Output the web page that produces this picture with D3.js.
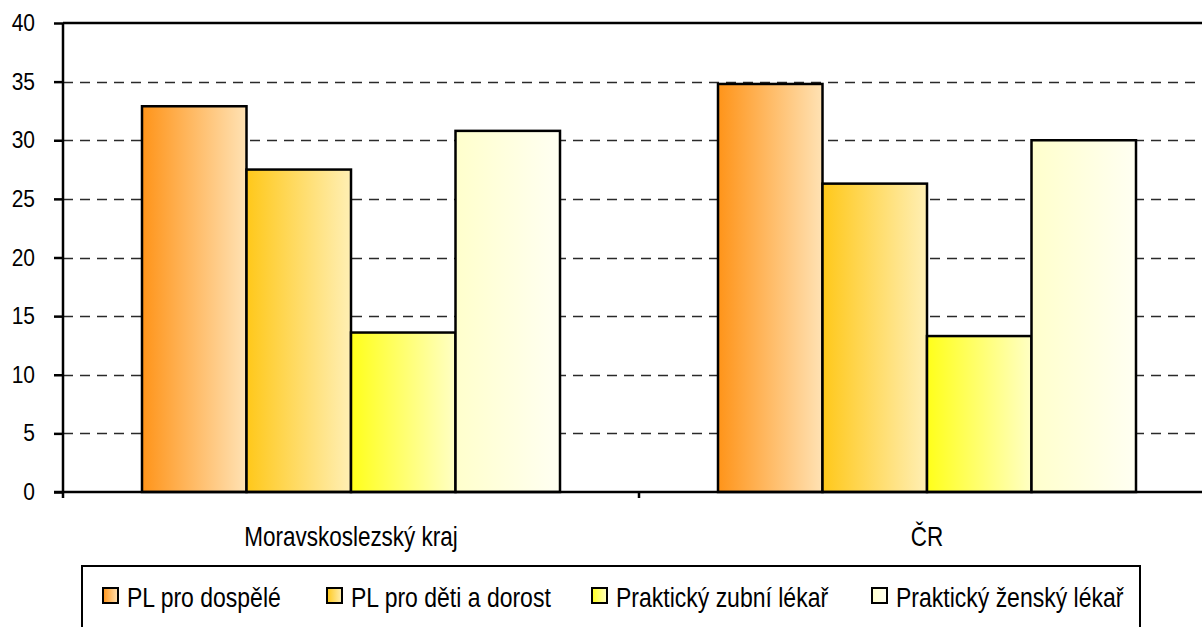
<!DOCTYPE html>
<html>
<head>
<meta charset="utf-8">
<script src="https://cdn.jsdelivr.net/npm/d3@7"></script>
<style>
  body { margin: 0; background: #fff; }
  svg { display: block; font-family: "Liberation Sans", Arial, sans-serif; }
</style>
</head>
<body>
<div id="chart"></div>
<script>
// data
const categories = ["Moravskoslezský kraj", "ČR"];
const series = ["PL pro dospělé", "PL pro děti a dorost", "Praktický zubní lékař", "Praktický ženský lékař"];
const valuesMSK = [32.9, 27.5, 13.6, 30.8];
const valuesCR = [34.8, 26.3, 13.3, 30.0];
const yTicks = [0, 5, 10, 15, 20, 25, 30, 35, 40];

// gradient colours (left -> right) per series
const gradStart = ["#ff9419", "#ffc81a", "#ffff1a", "#ffffcc"];
const gradEnd = ["#ffe2b4", "#ffefb4", "#ffffc4", "#fffff2"];

const width = 1202, height = 627;
const margin = {top: 23, left: 63, bottom: 135};
const plotRight = 1215; // plot area is cut at the window edge
const stretch = 1.22;   // text in the original is drawn a bit taller than wide

const rows = categories.map((c, i) => ({
  cat: c,
  vals: [valuesMSK, valuesCR][i].map((v, j) => ({series: series[j], idx: j, value: v}))
}));

const svg = d3.select("#chart").append("svg")
  .attr("width", width)
  .attr("height", height);

const defs = svg.append("defs");
series.forEach((s, i) => {
  const g = defs.append("linearGradient").attr("id", "grad" + i)
    .attr("x1", "0%").attr("x2", "100%").attr("y1", "0%").attr("y2", "0%");
  g.append("stop").attr("offset", "0%").attr("stop-color", gradStart[i]);
  g.append("stop").attr("offset", "100%").attr("stop-color", gradEnd[i]);
});

const x0 = d3.scaleBand()
  .domain(categories)
  .range([margin.left, plotRight])
  .paddingInner(0).paddingOuter(0);

const groupWidth = 418;
const x1 = d3.scaleBand()
  .domain(series)
  .range([0, groupWidth])
  .padding(0);

const y = d3.scaleLinear()
  .domain([0, 40])
  .range([height - margin.bottom, margin.top]);

// dashed grid lines
svg.append("g")
  .selectAll("line")
  .data(yTicks.filter(t => t > 0 && t < 40))
  .join("line")
    .attr("x1", margin.left)
    .attr("x2", width)
    .attr("y1", d => Math.round(y(d)) + 0.5)
    .attr("y2", d => Math.round(y(d)) + 0.5)
    .attr("stroke", "#2a2a2a")
    .attr("stroke-width", 1.3)
    .attr("stroke-dasharray", "10,7");

// top border line
svg.append("line")
  .attr("x1", margin.left).attr("x2", width)
  .attr("y1", y(40)).attr("y2", y(40))
  .attr("stroke", "#000").attr("stroke-width", 2.5);

// bars
const groups = svg.append("g")
  .selectAll("g")
  .data(rows)
  .join("g")
    .attr("transform", d => `translate(${x0(d.cat) + (x0.bandwidth() - groupWidth) / 2},0)`);

groups.selectAll("rect")
  .data(d => d.vals)
  .join("rect")
    .attr("x", d => x1(d.series))
    .attr("y", d => y(d.value))
    .attr("width", x1.bandwidth())
    .attr("height", d => y(0) - y(d.value))
    .attr("fill", d => `url(#grad${d.idx})`)
    .attr("stroke", "#000")
    .attr("stroke-width", 2.5);

// y axis
const yAxis = d3.axisLeft(y).tickValues(yTicks).tickSize(9).tickFormat("");
const yg = svg.append("g")
  .attr("transform", `translate(${margin.left},0)`)
  .call(yAxis);
yg.select(".domain").remove();
yg.selectAll(".tick line").attr("stroke", "#000").attr("stroke-width", 2.5);
yg.selectAll(".tick").append("text")
  .attr("transform", `translate(-28,7.5) scale(1,1.1)`)
  .attr("text-anchor", "end")
  .attr("font-size", "21px")
  .attr("fill", "#000")
  .text(d => d);
svg.append("line")
  .attr("x1", margin.left).attr("x2", margin.left)
  .attr("y1", y(40)).attr("y2", y(0) + 6)
  .attr("stroke", "#000").attr("stroke-width", 2.5);

// x axis
svg.append("line")
  .attr("x1", margin.left - 9).attr("x2", width)
  .attr("y1", y(0)).attr("y2", y(0))
  .attr("stroke", "#000").attr("stroke-width", 2.5);
svg.append("g")
  .selectAll("line")
  .data(categories.slice(1))
  .join("line")
    .attr("x1", d => x0(d)).attr("x2", d => x0(d))
    .attr("y1", y(0)).attr("y2", y(0) + 6)
    .attr("stroke", "#000").attr("stroke-width", 2.5);
svg.append("g")
  .selectAll("text")
  .data(categories)
  .join("text")
    .attr("transform", d => `translate(${x0(d) + x0.bandwidth() / 2},546) scale(1,${stretch})`)
    .attr("text-anchor", "middle")
    .attr("font-size", "22.5px")
    .attr("fill", "#000")
    .text(d => d);

// legend
const legendX = [103, 327, 592, 872];
const legend = svg.append("g");
legend.append("rect")
  .attr("x", 82).attr("y", 566)
  .attr("width", 1058).attr("height", 80)
  .attr("fill", "#fff")
  .attr("stroke", "#000").attr("stroke-width", 2);
const li = legend.selectAll("g.item")
  .data(series)
  .join("g")
    .attr("class", "item")
    .attr("transform", (d, i) => `translate(${legendX[i]},588)`);
li.append("rect")
  .attr("width", 15).attr("height", 15)
  .attr("fill", (d, i) => `url(#grad${i})`)
  .attr("stroke", "#000").attr("stroke-width", 2);
li.append("text")
  .attr("transform", `translate(24,19) scale(1,${stretch})`)
  .attr("font-size", "23px")
  .attr("fill", "#000")
  .text(d => d);
</script>
</body>
</html>
